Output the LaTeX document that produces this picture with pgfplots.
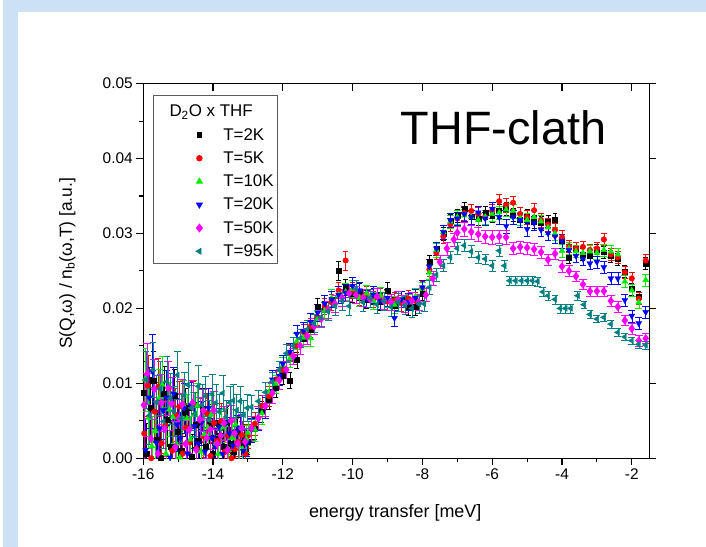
\documentclass[border=0pt]{standalone}
\usepackage{fontspec}
\setmainfont{Liberation Sans}
\usepackage{pgfplots}
\usepackage{pgfplotstable}
\pgfplotsset{compat=1.18}
\definecolor{slideblue}{RGB}{205,225,245}
\definecolor{kgreen}{RGB}{0,235,0}
\definecolor{kteal}{RGB}{0,128,128}
\definecolor{kmagenta}{RGB}{255,0,255}
\definecolor{legframe}{RGB}{90,90,90}

\begin{document}
% T=2K
\pgfplotstableread{
x y e
-16.0 0.0088 0.0042
-15.9 0.0006 0.0041
-15.8 0.0068 0.0040
-15.7 0.0103 0.0040
-15.6 0.0025 0.0039
-15.5 0.0001 0.0038
-15.4 0.0086 0.0037
-15.3 0.0052 0.0036
-15.2 0.0015 0.0035
-15.1 0.0084 0.0035
-15.0 0.0035 0.0034
-14.9 0.0010 0.0033
-14.8 0.0061 0.0032
-14.7 0.0067 0.0031
-14.6 0.0002 0.0030
-14.5 0.0045 0.0030
-14.4 0.0023 0.0029
-14.3 0.0066 0.0028
-14.2 0.0015 0.0027
-14.1 0.0046 0.0026
-14.0 0.0006 0.0025
-13.9 0.0048 0.0025
-13.8 0.0030 0.0024
-13.7 0.0016 0.0023
-13.6 0.0047 0.0022
-13.5 0.0020 0.0021
-13.4 0.0008 0.0021
-13.3 0.0035 0.0020
-13.2 0.0021 0.0019
-13.1 0.0028 0.0018
-13.0 0.0022 0.0016
-12.8 0.0040 0.0015
-12.6 0.0062 0.0014
-12.4 0.0078 0.0013
-12.2 0.0094 0.0012
-12.0 0.0110 0.0011
-11.8 0.0104 0.0011
-11.6 0.0131 0.0011
-11.4 0.0160 0.0011
-11.2 0.0172 0.0011
-11.0 0.0202 0.0011
-10.8 0.0198 0.0011
-10.6 0.0212 0.0011
-10.4 0.0250 0.0013
-10.2 0.0228 0.0011
-10.0 0.0219 0.0011
-9.8 0.0222 0.0011
-9.6 0.0211 0.0011
-9.4 0.0216 0.0011
-9.2 0.0209 0.0011
-9.0 0.0224 0.0011
-8.8 0.0204 0.0011
-8.6 0.0212 0.0011
-8.4 0.0202 0.0011
-8.2 0.0202 0.0011
-8.0 0.0220 0.0009
-7.8 0.0262 0.0009
-7.6 0.0280 0.0009
-7.4 0.0300 0.0009
-7.2 0.0317 0.0009
-7.0 0.0324 0.0009
-6.8 0.0333 0.0009
-6.6 0.0322 0.0009
-6.4 0.0320 0.0009
-6.2 0.0328 0.0009
-6.0 0.0324 0.0009
-5.8 0.0330 0.0009
-5.6 0.0333 0.0009
-5.4 0.0325 0.0009
-5.2 0.0318 0.0009
-5.0 0.0323 0.0009
-4.8 0.0316 0.0009
-4.6 0.0314 0.0009
-4.4 0.0316 0.0009
-4.2 0.0318 0.0009
-4.0 0.0290 0.0009
-3.8 0.0268 0.0008
-3.6 0.0280 0.0008
-3.4 0.0272 0.0008
-3.2 0.0270 0.0008
-3.0 0.0278 0.0008
-2.8 0.0275 0.0008
-2.6 0.0270 0.0008
-2.4 0.0266 0.0008
-2.2 0.0249 0.0008
-2.0 0.0226 0.0008
-1.8 0.0215 0.0008
-1.6 0.0260 0.0008
}\tTwo
% T=5K
\pgfplotstableread{
x y e
-15.97 0.0033 0.0042
-15.87 0.0097 0.0041
-15.77 0.0000 0.0040
-15.67 0.0062 0.0040
-15.57 0.0095 0.0039
-15.47 0.0020 0.0038
-15.37 0.0044 0.0037
-15.27 0.0093 0.0036
-15.17 0.0010 0.0035
-15.07 0.0058 0.0035
-14.97 0.0069 0.0034
-14.87 0.0006 0.0033
-14.77 0.0041 0.0032
-14.67 0.0021 0.0031
-14.57 0.0073 0.0030
-14.47 0.0013 0.0030
-14.37 0.0051 0.0029
-14.27 0.0029 0.0028
-14.17 0.0060 0.0027
-14.07 0.0003 0.0026
-13.97 0.0047 0.0025
-13.87 0.0023 0.0025
-13.77 0.0049 0.0024
-13.67 0.0008 0.0023
-13.57 0.0030 0.0022
-13.47 0.0000 0.0021
-13.37 0.0012 0.0021
-13.27 0.0022 0.0020
-13.17 0.0031 0.0019
-13.07 0.0006 0.0018
-13.0 0.0030 0.0016
-12.8 0.0046 0.0015
-12.6 0.0070 0.0014
-12.4 0.0083 0.0013
-12.2 0.0105 0.0012
-12.0 0.0118 0.0011
-11.8 0.0140 0.0011
-11.6 0.0150 0.0011
-11.4 0.0168 0.0011
-11.2 0.0176 0.0011
-11.0 0.0188 0.0011
-10.8 0.0203 0.0011
-10.6 0.0208 0.0011
-10.4 0.0224 0.0011
-10.2 0.0264 0.0013
-10.0 0.0224 0.0011
-9.8 0.0215 0.0011
-9.6 0.0219 0.0011
-9.4 0.0212 0.0011
-9.2 0.0216 0.0011
-9.0 0.0209 0.0011
-8.8 0.0211 0.0011
-8.6 0.0207 0.0011
-8.4 0.0213 0.0011
-8.2 0.0210 0.0011
-8.0 0.0227 0.0009
-7.8 0.0252 0.0009
-7.6 0.0274 0.0009
-7.4 0.0296 0.0009
-7.2 0.0312 0.0009
-7.0 0.0320 0.0009
-6.8 0.0327 0.0009
-6.6 0.0330 0.0009
-6.4 0.0326 0.0009
-6.2 0.0322 0.0009
-6.0 0.0330 0.0009
-5.8 0.0343 0.0009
-5.6 0.0338 0.0009
-5.4 0.0341 0.0009
-5.2 0.0326 0.0009
-5.0 0.0322 0.0009
-4.8 0.0331 0.0009
-4.6 0.0318 0.0009
-4.4 0.0312 0.0009
-4.2 0.0305 0.0009
-4.0 0.0295 0.0009
-3.8 0.0283 0.0008
-3.6 0.0280 0.0008
-3.4 0.0282 0.0008
-3.2 0.0278 0.0008
-3.0 0.0280 0.0008
-2.8 0.0292 0.0008
-2.6 0.0272 0.0008
-2.4 0.0268 0.0008
-2.2 0.0248 0.0008
-2.0 0.0240 0.0008
-1.8 0.0213 0.0008
-1.6 0.0264 0.0008
}\tFive
% T=10K
\pgfplotstableread{
x y e
-15.95 0.0105 0.0042
-15.85 0.0054 0.0041
-15.75 0.0016 0.0040
-15.65 0.0036 0.0040
-15.55 0.0080 0.0039
-15.45 0.0098 0.0038
-15.35 0.0006 0.0037
-15.25 0.0065 0.0036
-15.15 0.0055 0.0035
-15.05 0.0019 0.0035
-14.95 0.0001 0.0034
-14.85 0.0071 0.0033
-14.75 0.0053 0.0032
-14.65 0.0025 0.0031
-14.55 0.0058 0.0030
-14.45 0.0070 0.0030
-14.35 0.0009 0.0029
-14.25 0.0032 0.0028
-14.15 0.0041 0.0027
-14.05 0.0058 0.0026
-13.95 0.0017 0.0025
-13.85 0.0006 0.0025
-13.75 0.0041 0.0024
-13.65 0.0044 0.0023
-13.55 0.0011 0.0022
-13.45 0.0027 0.0021
-13.35 0.0045 0.0021
-13.25 0.0016 0.0020
-13.15 0.0012 0.0019
-13.05 0.0026 0.0018
-13.0 0.0034 0.0016
-12.8 0.0038 0.0015
-12.6 0.0060 0.0014
-12.4 0.0088 0.0013
-12.2 0.0099 0.0012
-12.0 0.0124 0.0011
-11.8 0.0133 0.0011
-11.6 0.0156 0.0011
-11.4 0.0161 0.0011
-11.2 0.0160 0.0011
-11.0 0.0186 0.0011
-10.8 0.0197 0.0011
-10.6 0.0214 0.0011
-10.4 0.0218 0.0011
-10.2 0.0222 0.0011
-10.0 0.0226 0.0011
-9.8 0.0214 0.0011
-9.6 0.0220 0.0011
-9.4 0.0210 0.0011
-9.2 0.0217 0.0011
-9.0 0.0213 0.0011
-8.8 0.0205 0.0011
-8.6 0.0212 0.0011
-8.4 0.0208 0.0011
-8.2 0.0216 0.0011
-8.0 0.0226 0.0009
-7.8 0.0248 0.0009
-7.6 0.0278 0.0009
-7.4 0.0302 0.0009
-7.2 0.0316 0.0009
-7.0 0.0322 0.0009
-6.8 0.0324 0.0009
-6.6 0.0322 0.0009
-6.4 0.0318 0.0009
-6.2 0.0322 0.0009
-6.0 0.0326 0.0009
-5.8 0.0328 0.0009
-5.6 0.0332 0.0009
-5.4 0.0330 0.0009
-5.2 0.0320 0.0009
-5.0 0.0318 0.0009
-4.8 0.0322 0.0009
-4.6 0.0316 0.0009
-4.4 0.0308 0.0009
-4.2 0.0300 0.0009
-4.0 0.0277 0.0009
-3.8 0.0280 0.0008
-3.6 0.0276 0.0008
-3.4 0.0274 0.0008
-3.2 0.0276 0.0008
-3.0 0.0274 0.0008
-2.8 0.0278 0.0008
-2.6 0.0276 0.0008
-2.4 0.0272 0.0008
-2.2 0.0236 0.0008
-2.0 0.0224 0.0008
-1.8 0.0208 0.0008
-1.6 0.0238 0.0008
}\tTen
% T=20K
\pgfplotstableread{
x y e
-15.93 0.0011 0.0042
-15.83 0.0081 0.0041
-15.73 0.0115 0.0050
-15.63 0.0021 0.0040
-15.53 0.0040 0.0039
-15.43 0.0064 0.0038
-15.33 0.0081 0.0037
-15.23 0.0001 0.0036
-15.13 0.0086 0.0035
-15.03 0.0045 0.0035
-14.93 0.0027 0.0034
-14.83 0.0067 0.0033
-14.73 0.0006 0.0032
-14.63 0.0071 0.0031
-14.53 0.0043 0.0030
-14.43 0.0020 0.0030
-14.33 0.0047 0.0029
-14.23 0.0009 0.0028
-14.13 0.0067 0.0027
-14.03 0.0027 0.0026
-13.93 0.0015 0.0025
-13.83 0.0042 0.0025
-13.73 0.0006 0.0024
-13.63 0.0047 0.0023
-13.53 0.0033 0.0022
-13.43 0.0017 0.0021
-13.33 0.0036 0.0021
-13.23 0.0041 0.0020
-13.13 0.0010 0.0019
-13.03 0.0020 0.0018
-12.9 0.0038 0.0016
-12.7 0.0052 0.0015
-12.5 0.0068 0.0014
-12.3 0.0105 0.0013
-12.1 0.0110 0.0012
-12.0 0.0126 0.0011
-11.8 0.0142 0.0011
-11.6 0.0166 0.0011
-11.4 0.0170 0.0011
-11.2 0.0182 0.0011
-11.0 0.0194 0.0011
-10.8 0.0206 0.0011
-10.6 0.0212 0.0011
-10.4 0.0218 0.0011
-10.2 0.0221 0.0011
-10.0 0.0230 0.0011
-9.8 0.0224 0.0011
-9.6 0.0213 0.0011
-9.4 0.0218 0.0011
-9.2 0.0210 0.0011
-9.0 0.0214 0.0011
-8.8 0.0187 0.0011
-8.6 0.0212 0.0011
-8.4 0.0209 0.0011
-8.2 0.0214 0.0011
-8.0 0.0228 0.0009
-7.8 0.0256 0.0009
-7.6 0.0280 0.0009
-7.4 0.0302 0.0009
-7.2 0.0318 0.0009
-7.0 0.0320 0.0009
-6.8 0.0326 0.0009
-6.6 0.0322 0.0009
-6.4 0.0328 0.0009
-6.2 0.0320 0.0009
-6.0 0.0333 0.0009
-5.8 0.0322 0.0009
-5.6 0.0310 0.0009
-5.4 0.0322 0.0009
-5.2 0.0318 0.0009
-5.0 0.0306 0.0009
-4.8 0.0314 0.0009
-4.6 0.0305 0.0009
-4.4 0.0300 0.0009
-4.2 0.0296 0.0009
-4.0 0.0290 0.0009
-3.8 0.0278 0.0008
-3.6 0.0270 0.0008
-3.4 0.0266 0.0008
-3.2 0.0260 0.0008
-3.0 0.0262 0.0008
-2.8 0.0255 0.0008
-2.6 0.0240 0.0008
-2.4 0.0240 0.0008
-2.2 0.0211 0.0008
-2.0 0.0190 0.0008
-1.8 0.0180 0.0008
-1.6 0.0195 0.0008
}\tTwenty
% T=50K
\pgfplotstableread{
x y e
-15.98 0.0071 0.0042
-15.88 0.0113 0.0041
-15.78 0.0026 0.0040
-15.68 0.0092 0.0040
-15.58 0.0006 0.0039
-15.48 0.0074 0.0038
-15.38 0.0039 0.0037
-15.28 0.0094 0.0036
-15.18 0.0073 0.0035
-15.08 0.0015 0.0035
-14.98 0.0053 0.0034
-14.88 0.0072 0.0033
-14.78 0.0019 0.0032
-14.68 0.0038 0.0031
-14.58 0.0074 0.0030
-14.48 0.0011 0.0030
-14.38 0.0052 0.0029
-14.28 0.0064 0.0028
-14.18 0.0027 0.0027
-14.08 0.0038 0.0026
-13.98 0.0064 0.0025
-13.88 0.0019 0.0025
-13.78 0.0030 0.0024
-13.68 0.0047 0.0023
-13.58 0.0011 0.0022
-13.48 0.0050 0.0021
-13.38 0.0033 0.0021
-13.28 0.0019 0.0020
-13.18 0.0040 0.0019
-13.08 0.0022 0.0018
-12.9 0.0040 0.0016
-12.7 0.0054 0.0015
-12.5 0.0070 0.0014
-12.3 0.0087 0.0013
-12.1 0.0104 0.0012
-11.9 0.0118 0.0011
-11.7 0.0136 0.0011
-11.5 0.0150 0.0011
-11.3 0.0163 0.0011
-11.1 0.0176 0.0011
-10.9 0.0186 0.0011
-10.7 0.0198 0.0011
-10.5 0.0206 0.0011
-10.3 0.0214 0.0011
-10.1 0.0220 0.0011
-9.9 0.0218 0.0011
-9.7 0.0214 0.0011
-9.5 0.0212 0.0011
-9.3 0.0216 0.0011
-9.1 0.0210 0.0011
-8.9 0.0208 0.0011
-8.7 0.0212 0.0011
-8.5 0.0206 0.0011
-8.3 0.0210 0.0011
-8.1 0.0208 0.0011
-7.9 0.0218 0.0009
-7.7 0.0240 0.0009
-7.5 0.0262 0.0009
-7.3 0.0280 0.0009
-7.1 0.0292 0.0009
-7.0 0.0301 0.0009
-6.8 0.0306 0.0009
-6.6 0.0302 0.0009
-6.4 0.0299 0.0009
-6.2 0.0296 0.0009
-6.0 0.0295 0.0009
-5.8 0.0296 0.0009
-5.6 0.0295 0.0009
-5.4 0.0280 0.0008
-5.2 0.0282 0.0008
-5.0 0.0281 0.0008
-4.8 0.0279 0.0008
-4.6 0.0275 0.0008
-4.4 0.0265 0.0008
-4.2 0.0273 0.0008
-4.0 0.0256 0.0008
-3.8 0.0250 0.0007
-3.6 0.0243 0.0007
-3.4 0.0232 0.0007
-3.2 0.0223 0.0007
-3.0 0.0223 0.0007
-2.8 0.0223 0.0007
-2.6 0.0210 0.0007
-2.4 0.0202 0.0007
-2.2 0.0184 0.0007
-2.0 0.0173 0.0007
-1.8 0.0157 0.0007
-1.6 0.0160 0.0007
}\tFifty
% T=95K
\pgfplotstableread{
x y e
-15.92 0.0105 0.0038
-15.82 0.0057 0.0038
-15.72 0.0118 0.0037
-15.62 0.0075 0.0036
-15.52 0.0093 0.0036
-15.42 0.0049 0.0035
-15.32 0.0102 0.0034
-15.22 0.0080 0.0034
-15.12 0.0063 0.0033
-15.02 0.0111 0.0032
-14.92 0.0053 0.0032
-14.82 0.0084 0.0031
-14.72 0.0098 0.0030
-14.62 0.0067 0.0030
-14.52 0.0059 0.0029
-14.42 0.0096 0.0028
-14.32 0.0071 0.0028
-14.22 0.0083 0.0027
-14.12 0.0051 0.0026
-14.02 0.0086 0.0026
-13.92 0.0074 0.0025
-13.82 0.0062 0.0024
-13.72 0.0087 0.0024
-13.62 0.0055 0.0023
-13.52 0.0074 0.0022
-13.42 0.0077 0.0022
-13.32 0.0064 0.0021
-13.22 0.0076 0.0020
-13.12 0.0058 0.0019
-13.02 0.0067 0.0018
-12.9 0.0068 0.0016
-12.7 0.0076 0.0015
-12.5 0.0088 0.0014
-12.3 0.0102 0.0013
-12.1 0.0118 0.0012
-11.9 0.0140 0.0012
-11.7 0.0150 0.0012
-11.5 0.0160 0.0012
-11.3 0.0172 0.0012
-11.1 0.0180 0.0012
-10.9 0.0188 0.0012
-10.7 0.0196 0.0012
-10.5 0.0203 0.0012
-10.3 0.0210 0.0012
-10.1 0.0203 0.0012
-9.9 0.0226 0.0012
-9.7 0.0208 0.0012
-9.5 0.0214 0.0012
-9.3 0.0205 0.0012
-9.1 0.0210 0.0012
-8.9 0.0202 0.0012
-8.7 0.0208 0.0012
-8.5 0.0204 0.0012
-8.3 0.0200 0.0012
-8.1 0.0206 0.0012
-7.95 0.0206 0.0010
-7.8 0.0228 0.0009
-7.6 0.0245 0.0009
-7.4 0.0257 0.0008
-7.2 0.0268 0.0008
-7.0 0.0280 0.0008
-6.8 0.0284 0.0008
-6.6 0.0276 0.0008
-6.4 0.0268 0.0008
-6.2 0.0266 0.0007
-6.0 0.0257 0.0007
-5.8 0.0277 0.0007
-5.65 0.0257 0.0007
-5.5 0.0237 0.0006
-5.33 0.0237 0.0006
-5.16 0.0237 0.0006
-5.0 0.0237 0.0006
-4.85 0.0237 0.0006
-4.7 0.0236 0.0006
-4.55 0.0222 0.0006
-4.4 0.0217 0.0006
-4.2 0.0212 0.0006
-4.05 0.0200 0.0006
-3.9 0.0200 0.0006
-3.75 0.0200 0.0006
-3.55 0.0217 0.0006
-3.37 0.0205 0.0005
-3.2 0.0192 0.0005
-3.0 0.0186 0.0005
-2.8 0.0188 0.0005
-2.6 0.0179 0.0005
-2.4 0.0168 0.0005
-2.2 0.0162 0.0005
-2.0 0.0157 0.0005
-1.8 0.0152 0.0005
-1.6 0.0151 0.0005
}\tNinetyFive

\pgfplotsset{
  frame/.style={scale only axis, width=508pt, height=376pt,
    at={(141pt,89pt)}, anchor=south west,
    xmin=-16, xmax=-1.5, ymin=0, ymax=0.05,
    scaled x ticks=false, scaled y ticks=false,
    axis line style={line width=1.1pt},
    tick style={black, line width=1.1pt},
    major tick length=7pt, minor tick length=4pt},
  pts/.style={only marks, mark options={solid},
    error bars/y dir=both, error bars/y explicit,
    error bars/error bar style={line width=0.5pt}},
}

\begin{tikzpicture}
\fill[slideblue] (0pt,0pt) rectangle (706pt,549pt);
\fill[white] (15pt,0pt) rectangle (706pt,537pt);

\begin{axis}[frame,
  xtick={-16,-14,-12,-10,-8,-6,-4,-2},
  minor xtick={-15,-13,-11,-9,-7,-5,-3},
  ytick={0,0.01,0.02,0.03,0.04,0.05},
  minor ytick={0.005,0.015,0.025,0.035,0.045},
  tick align=outside, xtick pos=left, ytick pos=left,
  /pgf/number format/assume math mode=true,
  yticklabel style={/pgf/number format/fixed, /pgf/number format/fixed zerofill, /pgf/number format/precision=2},
  ticklabel style={font=\fontsize{15.5}{18}\selectfont},
  xlabel={energy transfer [meV]},
  ylabel={S(Q,ω) / n\textsubscript{b}(ω,T) [a.u.]},
  every axis x label/.style={at={(axis description cs:0.498,-0.145)}, anchor=center, font=\fontsize{18}{21}\selectfont},
  every axis y label/.style={at={(axis description cs:-0.15,0.52)}, rotate=90, anchor=center, font=\fontsize{17.5}{21}\selectfont},
  legend style={at={(axis description cs:0.0197,0.9707)}, anchor=north west,
    draw=legframe, line width=0.8pt, fill=white,
    font=\fontsize{17}{20}\selectfont, cells={anchor=west},
    nodes={inner sep=0pt}, inner xsep=4pt, inner ysep=5pt,
    row sep=10pt, column sep=14pt},
  legend image code/.code={\path[draw=none, fill=none] (0pt,0pt) -- (52pt,0pt); \draw[#1] plot coordinates {(42pt,0pt)};},
]
\addlegendimage{empty legend}
\addlegendentry{\hspace*{-54pt}\rule[-6pt]{0pt}{23pt}D\textsubscript{2}O x THF}
\addplot[black, pts, mark=square*, mark size=2.5pt] table[x=x, y=y, y error=e] {\tTwo};
\addlegendentry{T=2K}
\addplot[red, pts, mark=*, mark size=2.8pt] table[x=x, y=y, y error=e] {\tFive};
\addlegendentry{T=5K}
\addplot[kgreen, pts, mark=triangle*, mark size=3.4pt] table[x=x, y=y, y error=e] {\tTen};
\addlegendentry{T=10K}
\addplot[blue, pts, mark=triangle*, mark size=3.4pt, mark options={rotate=180}] table[x=x, y=y, y error=e] {\tTwenty};
\addlegendentry{T=20K}
\addplot[kmagenta, pts, mark=diamond*, mark size=4pt] table[x=x, y=y, y error=e] {\tFifty};
\addlegendentry{T=50K}
\addplot[kteal, pts, mark=triangle*, mark size=3.4pt, mark options={rotate=90}] table[x=x, y=y, y error=e] {\tNinetyFive};
\addlegendentry{T=95K}
\node[anchor=base, font=\fontsize{47}{50}\selectfont] at (axis cs:-5.67,0.0419) {THF-clath};
\end{axis}

% top ticks point inward
\begin{axis}[frame, axis line style={draw=none},
  xtick={-16,-14,-12,-10,-8,-6,-4,-2}, xticklabels={}, ytick=\empty,
  tick align=inside, xtick pos=right]
\end{axis}
% right ticks point outward
\begin{axis}[frame, axis line style={draw=none},
  ytick={0,0.01,0.02,0.03,0.04,0.05}, yticklabels={}, xtick=\empty,
  tick align=outside, ytick pos=right]
\end{axis}

\pgfresetboundingbox
\path[use as bounding box] (0pt,0pt) rectangle (706pt,549pt);
\end{tikzpicture}
\end{document}
